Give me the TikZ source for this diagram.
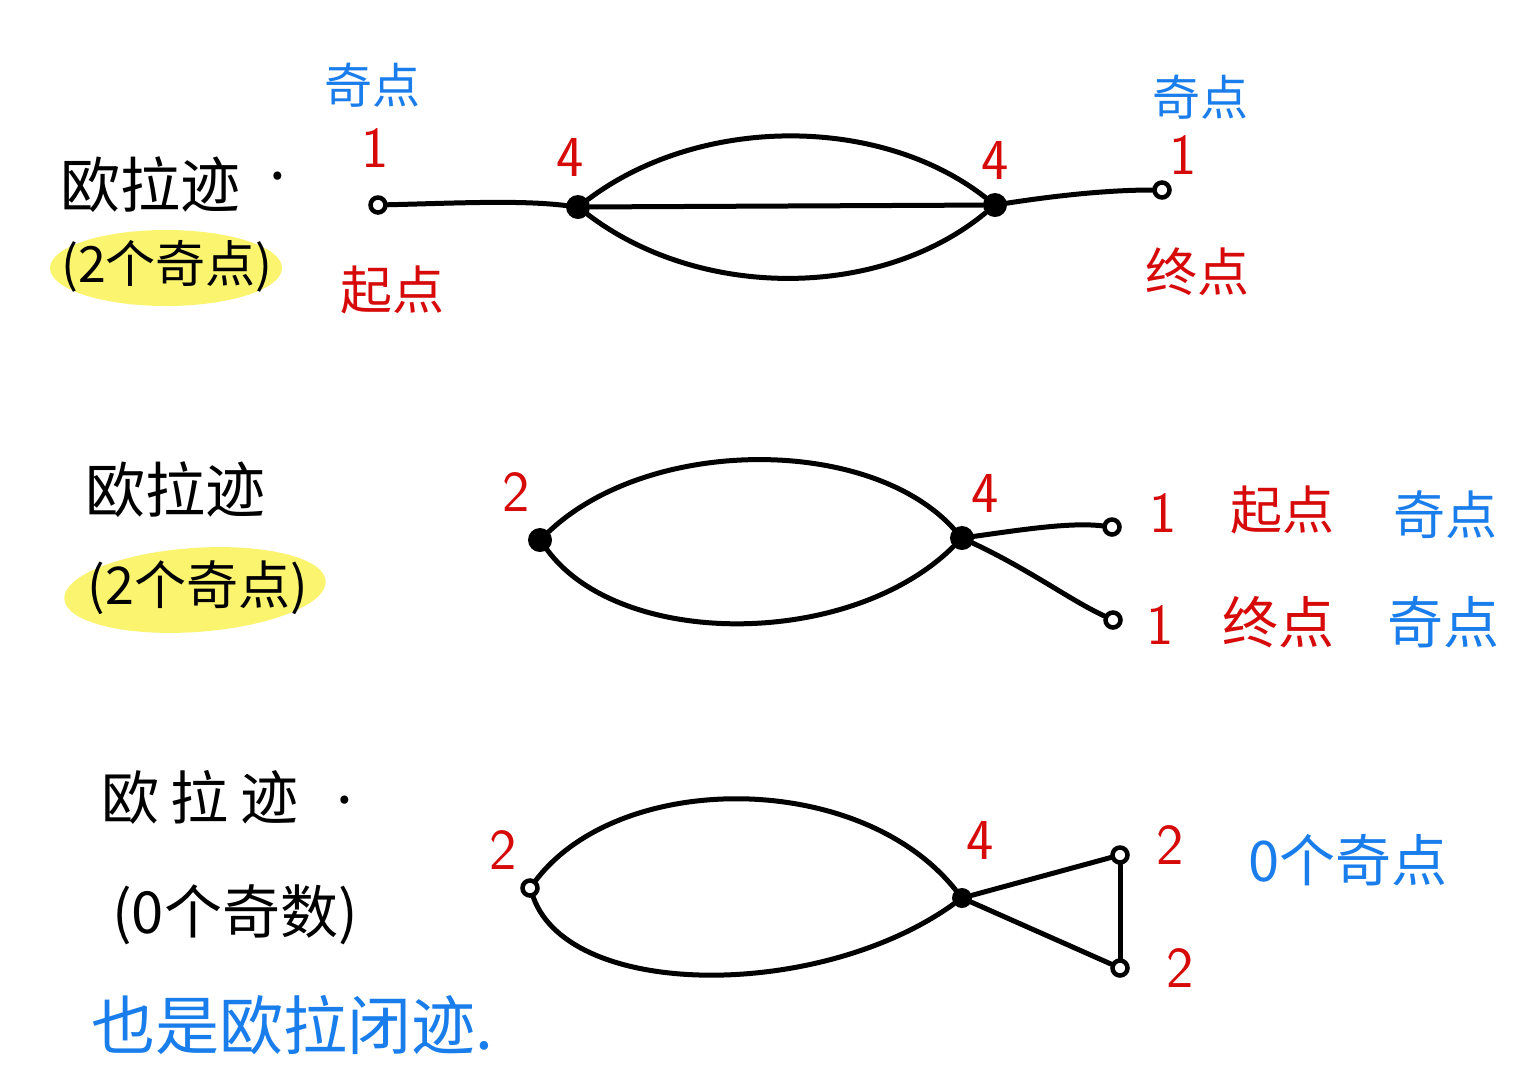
\documentclass[tikz,border=0pt]{standalone}
\usepackage{fontspec}
\newfontfamily\cjk{Noto Sans CJK SC}
\definecolor{penred}{RGB}{215,10,10}
\definecolor{penblue}{RGB}{25,125,235}
\definecolor{hilite}{RGB}{250,244,110}
\usetikzlibrary{shapes.geometric}
\tikzset{
  edge/.style={line width=5pt, line cap=round, black},
  vtx/.style={circle, fill=black, inner sep=0pt, minimum size=24pt},
  smallvtx/.style={circle, draw=black, line width=4.5pt, fill=white, inner sep=0pt, minimum size=15pt},
  blk/.style={font=\cjk\fontsize{60}{64}\selectfont, text=black, inner sep=0pt},
  red/.style={font=\cjk\fontsize{52}{56}\selectfont, text=penred, inner sep=0pt},
  blu/.style={font=\cjk\fontsize{48}{52}\selectfont, text=penblue, inner sep=0pt},
  num/.style={font=\sffamily\fontsize{58}{62}\selectfont, text=penred, inner sep=0pt},
  hl/.style={ellipse, fill=hilite, inner sep=0pt}
}
\begin{document}
\begin{tikzpicture}[x=1pt,y=-1pt]
\useasboundingbox[fill=white] (0,0) rectangle (1539,1080);

% ---------- Row 1 ----------
\node[blk] (t1) at (150,185) {欧拉迹};
\node[blk] (d1) at (278,176) {.};
\node[hl, minimum width=232pt, minimum height=76pt] (h1) at (166,268) {};
\node[blk, font=\cjk\fontsize{50}{54}\selectfont] (p1) at (167,266) {(2个奇点)};

\node[smallvtx] (a1) at (378,205) {};
\node[vtx] (a2) at (578,207) {};
\node[vtx] (a3) at (995,205) {};
\node[smallvtx] (a4) at (1162,190) {};

\draw[edge] (a1) .. controls (460,203) and (520,200) .. (a2);
\draw[edge] (a2) .. controls (700,115) and (880,115) .. (a3);
\draw[edge] (a2) -- (a3);
\draw[edge] (a2) .. controls (700,300) and (880,300) .. (a3);
\draw[edge] (a3) .. controls (1060,195) and (1110,190) .. (a4);

\node[blu] (o1) at (372,85) {奇点};
\node[num] (n1) at (375,148) {1};
\node[red] (s1) at (392,290) {起点};
\node[num] (n2) at (570,157) {4};
\node[num] (n3) at (995,160) {4};
\node[blu] (o2) at (1200,97) {奇点};
\node[num] (n4) at (1183,155) {1};
\node[red] (e1) at (1197,272) {终点};

% ---------- Row 2 ----------
\node[blk] (t2) at (175,490) {欧拉迹};
\node[hl, minimum width=262pt, minimum height=84pt, rotate=4] (h2) at (195,590) {};
\node[blk, font=\cjk\fontsize{52}{56}\selectfont] (p2) at (198,588) {(2个奇点)};

\node[vtx] (b1) at (540,540) {};
\node[vtx] (b2) at (962,538) {};
\node[smallvtx] (b3) at (1112,527) {};
\node[smallvtx] (b4) at (1113,620) {};

\draw[edge] (b1) .. controls (650,436) and (870,436) .. (b2);
\draw[edge] (b1) .. controls (620,649) and (850,649) .. (b2);
\draw[edge] (b2) .. controls (1020,530) and (1070,522) .. (b3);
\draw[edge] (b2) .. controls (1030,570) and (1070,600) .. (b4);

\node[num] (m1) at (516,492) {2};
\node[num] (m2) at (985,493) {4};
\node[num] (m3) at (1163,513) {1};
\node[red] (s2) at (1282,510) {起点};
\node[blu, font=\cjk\fontsize{52}{56}\selectfont] (o3) at (1445,515) {奇点};
\node[num] (m4) at (1160,625) {1};
\node[red, font=\cjk\fontsize{56}{60}\selectfont] (e2) at (1278,622) {终点};
\node[blu, font=\cjk\fontsize{56}{60}\selectfont] (o4) at (1443,622) {奇点};

% ---------- Row 3 ----------
\node[blk, font=\cjk\fontsize{58}{62}\selectfont] (t3) at (200,797) {欧\hspace{12pt}拉\hspace{12pt}迹};
\node[blk] (d3) at (345,800) {.};
\node[blk, font=\cjk\fontsize{58}{62}\selectfont] (p3) at (235,915) {(0个奇数)};
\node[blu, font=\cjk\fontsize{64}{68}\selectfont] (c3) at (292,1025) {也是欧拉闭迹.};

\node[smallvtx] (c1) at (530,888) {};
\node[vtx, minimum size=20pt] (c2) at (962,898) {};
\node[smallvtx] (cr) at (1120,855) {};
\node[smallvtx] (cs) at (1120,968) {};

\draw[edge] (c1) .. controls (620,770) and (860,770) .. (c2);
\draw[edge] (c1) .. controls (570,1000) and (820,1000) .. (c2);
\draw[edge] (c2) -- (cr);
\draw[edge] (c2) -- (cs);
\draw[edge] (cr) -- (cs);

\node[num] (k1) at (503,850) {2};
\node[num] (k2) at (980,840) {4};
\node[num] (k3) at (1170,845) {2};
\node[num] (k4) at (1180,968) {2};
\node[blu, font=\cjk\fontsize{56}{60}\selectfont] (z3) at (1348,860) {0个奇点};
\end{tikzpicture}
\end{document}
